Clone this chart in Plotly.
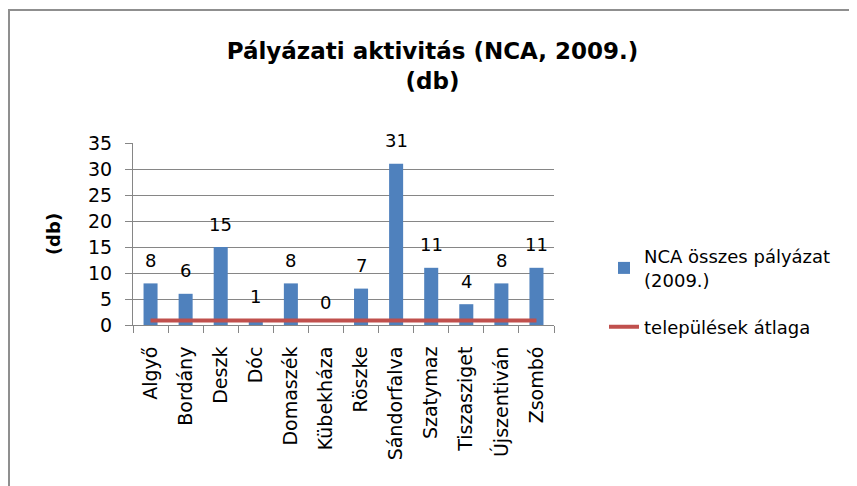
import plotly.graph_objects as go

categories = ["Algyő", "Bordány", "Deszk", "Dóc", "Domaszék", "Kübekháza", "Röszke",
              "Sándorfalva", "Szatymaz", "Tiszasziget", "Újszentiván", "Zsombó"]
nca_values = [8, 6, 15, 1, 8, 0, 7, 31, 11, 4, 8, 11]
avg_values = [0.85] * 12
y_ticks = [0, 5, 10, 15, 20, 25, 30, 35]

FONT = "DejaVu Sans"
GRID = "#868686"

# page has an 8px body margin, so the figure is sized/positioned to compensate
W, H = 849, 478
L, T = 125, 135
PW, PH = 421, 182
R = W - L - PW
B = H - T - PH
PB = T + PH  # plot bottom, figure px


def px_x(x):
    return (x - L) / PW


def px_y(y):
    return (PB - y) / PH


fig = go.Figure()
fig.add_trace(go.Bar(
    x=categories, y=nca_values, name="NCA összes pályázat<br>(2009.)",
    marker=dict(color="#4F81BD", line=dict(width=0)), legend="legend", showlegend=True,
))
fig.add_trace(go.Scatter(
    x=categories, y=avg_values, name="települések átlaga", mode="lines",
    line=dict(color="#C0504D", width=4), legend="legend2", showlegend=True,
))

for c, v in zip(categories, nca_values):
    fig.add_annotation(x=c, y=v, text=str(v), showarrow=False, yshift=23,
                       font=dict(family=FONT, size=18, color="#000"))

legend_font = dict(family=FONT, size=18, color="#000")
fig.update_layout(
    width=W, height=H,
    margin=dict(l=L, r=R, t=T, b=B, autoexpand=False),
    paper_bgcolor="white", plot_bgcolor="white",
    font=dict(family=FONT, size=18, color="#000"),
    bargap=0.6, showlegend=True,
    title=dict(text="<b>Pályázati aktivitás (NCA, 2009.)<br>(db)</b>",
               x=0.5, xanchor="center", xref="container",
               y=1 - 51 / H, yanchor="top", yref="container",
               font=dict(family=FONT, size=23, color="#000")),
    legend=dict(x=px_x(596), xanchor="left", y=px_y(230), yanchor="top",
                font=legend_font, bgcolor="rgba(0,0,0,0)"),
    legend2=dict(x=px_x(596), xanchor="left", y=px_y(319), yanchor="middle",
                 font=legend_font, bgcolor="rgba(0,0,0,0)"),
    xaxis=dict(type="category", range=[-0.5, 11.5], tickangle=-90,
               tickson="boundaries", ticks="outside", ticklen=7, tickcolor=GRID,
               showline=True, linecolor=GRID, linewidth=1, showgrid=False,
               ticklabelstandoff=13, tickfont=dict(family=FONT, size=19)),
    yaxis=dict(range=[0, 35], tickvals=y_ticks, ticks="outside", ticklen=7, tickcolor=GRID,
               showline=True, linecolor=GRID, linewidth=1, showgrid=True, gridcolor=GRID,
               zeroline=False, ticklabelstandoff=9, tickfont=dict(family=FONT, size=19),
               title=dict(text="<b>(db)</b>", standoff=22, font=dict(family=FONT, size=18))),
    shapes=[dict(type="rect", xref="paper", yref="paper",
                 x0=px_x(1), x1=px_x(870),
                 y0=px_y(500), y1=px_y(2),
                 line=dict(color="#8f8f8f", width=2), fillcolor="rgba(0,0,0,0)", layer="below")],
)

fig.write_html("out.html")
